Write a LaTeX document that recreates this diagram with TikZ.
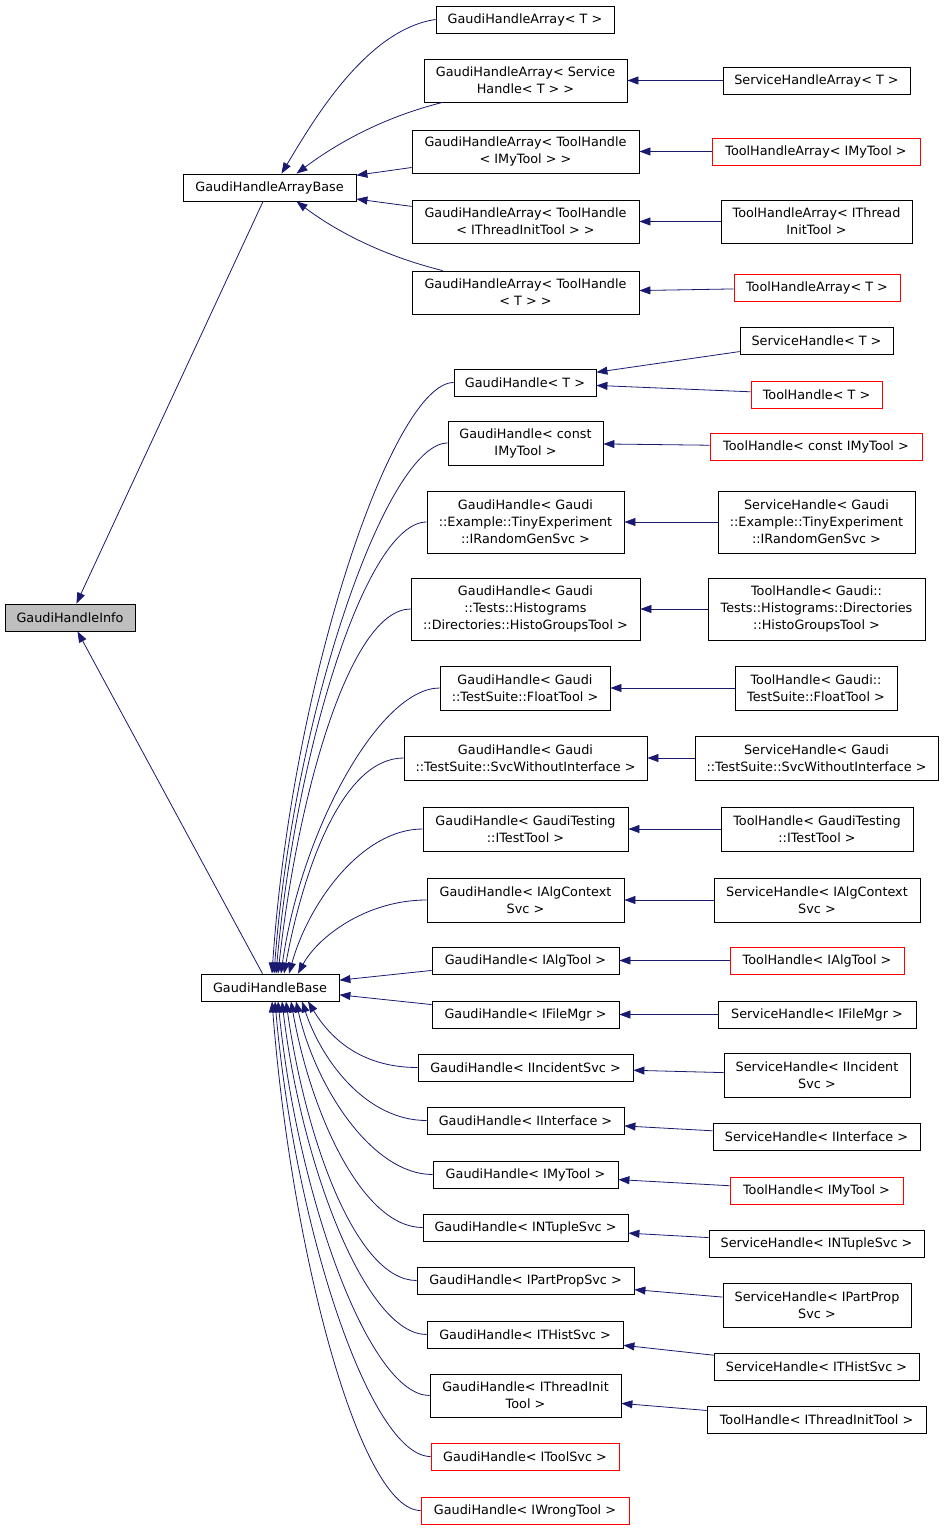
\documentclass[tikz,border=0pt]{standalone}
\usepackage{fontspec}
\setmainfont{DejaVu Sans}
\usetikzlibrary{arrows.meta,calc}
\definecolor{mb}{RGB}{25,25,112}
\begin{document}
\begin{tikzpicture}[x=1pt,y=-1pt,
 b/.style={draw=black,line width=0.8pt,inner sep=0pt,align=center,font=\fontsize{12.8}{17}\selectfont},
 r/.style={b,draw=red},
 e/.style={draw=mb,line width=0.8pt,-{Triangle[length=11pt,width=8pt]}}]
\useasboundingbox (0,0) rectangle (944,1530);
\node[b,fill=black!25,minimum width=130,minimum height=27] (info) at (70,617.5) {GaudiHandleInfo};
\node[b,minimum width=173,minimum height=27] (ab) at (269.5,187.5) {GaudiHandleArrayBase};
\node[b,minimum width=138,minimum height=27] (base) at (270,987.5) {GaudiHandleBase};
% array children
\node[b,minimum width=178,minimum height=27] (c4) at (525,19.5) {GaudiHandleArray< T >};
\node[b,minimum width=203,minimum height=43] (c5) at (525.5,80.5) {GaudiHandleArray< Service\\Handle< T > >};
\node[b,minimum width=227,minimum height=43] (c6) at (525.5,151.5) {GaudiHandleArray< ToolHandle\\< IMyTool > >};
\node[b,minimum width=227,minimum height=43] (c7) at (525.5,221.5) {GaudiHandleArray< ToolHandle\\< IThreadInitTool > >};
\node[b,minimum width=227,minimum height=43] (c8) at (525.5,292.5) {GaudiHandleArray< ToolHandle\\< T > >};
\node[b,minimum width=187,minimum height=27] (c9) at (816.5,80.5) {ServiceHandleArray< T >};
\node[r,minimum width=208,minimum height=27] (c10) at (816,151.5) {ToolHandleArray< IMyTool >};
\node[b,minimum width=191,minimum height=43] (c11) at (816.5,221.5) {ToolHandleArray< IThread\\InitTool >};
\node[r,minimum width=166,minimum height=27] (c12) at (817,287.5) {ToolHandleArray< T >};
% handle children
\node[b,minimum width=142,minimum height=27] (c13) at (525,382.5) {GaudiHandle< T >};
\node[b,minimum width=153,minimum height=27] (c14) at (816.5,340.5) {ServiceHandle< T >};
\node[r,minimum width=131,minimum height=27] (c15) at (816.5,394.5) {ToolHandle< T >};
\node[b,minimum width=155,minimum height=44] (c16) at (525.5,443) {GaudiHandle< const\\IMyTool >};
\node[r,minimum width=212,minimum height=27] (c17) at (816,446.5) {ToolHandle< const IMyTool >};
\node[b,minimum width=197,minimum height=62] (c18) at (525.5,522) {GaudiHandle< Gaudi\\::Example::TinyExperiment\\::IRandomGenSvc >};
\node[b,minimum width=197,minimum height=62] (c19) at (816.5,522) {ServiceHandle< Gaudi\\::Example::TinyExperiment\\::IRandomGenSvc >};
\node[b,minimum width=229,minimum height=62] (c20) at (525.5,609) {GaudiHandle< Gaudi\\::Tests::Histograms\\::Directories::HistoGroupsTool >};
\node[b,minimum width=217,minimum height=62] (c21) at (816.5,609) {ToolHandle< Gaudi::\\Tests::Histograms::Directories\\::HistoGroupsTool >};
\node[b,minimum width=170,minimum height=44] (c22) at (525,688) {GaudiHandle< Gaudi\\::TestSuite::FloatTool >};
\node[b,minimum width=162,minimum height=44] (c23) at (816,688) {ToolHandle< Gaudi::\\TestSuite::FloatTool >};
\node[b,minimum width=243,minimum height=44] (c24) at (525.5,758) {GaudiHandle< Gaudi\\::TestSuite::SvcWithoutInterface >};
\node[b,minimum width=243,minimum height=44] (c25) at (816.5,758) {ServiceHandle< Gaudi\\::TestSuite::SvcWithoutInterface >};
\node[b,minimum width=205,minimum height=44] (c26) at (525.5,829) {GaudiHandle< GaudiTesting\\::ITestTool >};
\node[b,minimum width=192,minimum height=44] (c27) at (817,829) {ToolHandle< GaudiTesting\\::ITestTool >};
\node[b,minimum width=197,minimum height=44] (c28) at (525.5,900) {GaudiHandle< IAlgContext\\Svc >};
\node[b,minimum width=206,minimum height=44] (c29) at (817,900) {ServiceHandle< IAlgContext\\Svc >};
\node[b,minimum width=187,minimum height=27] (c30) at (525.5,960.5) {GaudiHandle< IAlgTool >};
\node[r,minimum width=174,minimum height=27] (c31) at (817,960.5) {ToolHandle< IAlgTool >};
\node[b,minimum width=187,minimum height=27] (c32) at (525.5,1014.5) {GaudiHandle< IFileMgr >};
\node[b,minimum width=198,minimum height=27] (c33) at (817,1014.5) {ServiceHandle< IFileMgr >};
\node[b,minimum width=215,minimum height=27] (c34) at (525.5,1067.5) {GaudiHandle< IIncidentSvc >};
\node[b,minimum width=186,minimum height=44] (c35) at (817,1075) {ServiceHandle< IIncident\\Svc >};
\node[b,minimum width=197,minimum height=27] (c36) at (525.5,1120.5) {GaudiHandle< IInterface >};
\node[b,minimum width=207,minimum height=27] (c37) at (816.5,1136.5) {ServiceHandle< IInterface >};
\node[b,minimum width=185,minimum height=27] (c38) at (525.5,1174.5) {GaudiHandle< IMyTool >};
\node[r,minimum width=173,minimum height=27] (c39) at (816.5,1190.5) {ToolHandle< IMyTool >};
\node[b,minimum width=205,minimum height=27] (c40) at (525.5,1227.5) {GaudiHandle< INTupleSvc >};
\node[b,minimum width=215,minimum height=27] (c41) at (816.5,1243.5) {ServiceHandle< INTupleSvc >};
\node[b,minimum width=217,minimum height=27] (c42) at (525.5,1280.5) {GaudiHandle< IPartPropSvc >};
\node[b,minimum width=188,minimum height=44] (c43) at (817,1305) {ServiceHandle< IPartProp\\Svc >};
\node[b,minimum width=196,minimum height=27] (c44) at (525,1334.5) {GaudiHandle< ITHistSvc >};
\node[b,minimum width=205,minimum height=27] (c45) at (816.5,1366.5) {ServiceHandle< ITHistSvc >};
\node[b,minimum width=191,minimum height=43] (c46) at (525.5,1395.5) {GaudiHandle< IThreadInit\\Tool >};
\node[b,minimum width=219,minimum height=27] (c47) at (816.5,1419.5) {ToolHandle< IThreadInitTool >};
\node[r,minimum width=188,minimum height=27] (c48) at (525,1456.5) {GaudiHandle< IToolSvc >};
\node[r,minimum width=208,minimum height=27] (c49) at (525,1510.5) {GaudiHandle< IWrongTool >};
% base edges
\draw[e] (ab) -- (info);
\draw[e] (base) -- (info);
% array base edges
\draw[e] (c4.west) .. controls +(-70,10) and +(30,-50) .. ($(ab.north)+(12,0)$);
\draw[e] ($(c5.south west)+(19,0)$) .. controls +(-60,15) and +(40,-30) .. ($(ab.north)+(27,0)$);
\draw[e] (c6) -- (ab);
\draw[e] (c7) -- (ab);
\draw[e] ($(c8.north west)+(31,0)$) .. controls +(-60,-15) and +(40,30) .. ($(ab.south)+(27,0)$);
% right side
\foreach \r/\l in {c9/c5,c10/c6,c11/c7,c12/c8,c14/c13,c15/c13,c17/c16,c19/c18,c21/c20,c23/c22,c25/c24,c27/c26,c29/c28,c31/c30,c33/c32,c35/c34,c37/c36,c39/c38,c41/c40,c43/c42,c45/c44,c47/c46}
  \draw[e] (\r) -- (\l);
% handle base edges above
\foreach \c/\ox/\dy in {c13/2/296,c16/4/265,c18/6/226,c20/8/182,c22/11/143,c24/14/108,c26/19/72,c28/28/37}
  \draw[e] (\c.west) .. controls +(-60,0) and +(20,-\dy) .. ($(base.north)+(\ox,0)$);
\draw[e] (c30) -- (base);
\draw[e] (c32) -- (base);
\foreach \c/\ox/\dy in {c34/38/33,c36/32/60,c38/26/87,c40/21/113,c42/16/140,c44/12/167,c46/8/197,c48/5/228,c49/2/255}
  \draw[e] (\c.west) .. controls +(-60,0) and +(20,\dy) .. ($(base.south)+(\ox,0)$);
\end{tikzpicture}
\end{document}
